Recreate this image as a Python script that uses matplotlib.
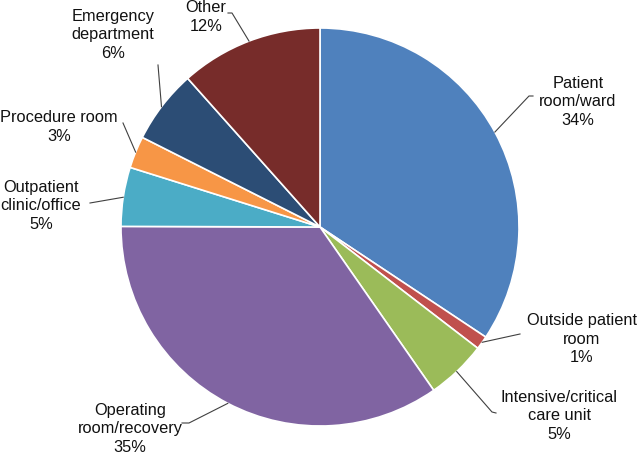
import numpy as np
import matplotlib
matplotlib.use("Agg")
import matplotlib.pyplot as plt

categories = ["Patient\nroom/ward", "Outside patient\nroom", "Intensive/critical\ncare unit",
              "Operating\nroom/recovery", "Outpatient\nclinic/office", "Procedure room",
              "Emergency\ndepartment", "Other"]
values = [34.4, 1.1, 4.9, 34.8, 4.8, 2.6, 6.0, 11.6]
pct_labels = ["34%", "1%", "5%", "35%", "5%", "3%", "6%", "12%"]
colors = ["#4F81BD", "#C0504D", "#9BBB59", "#8064A2", "#4BACC6", "#F79646", "#2C4D75", "#772C2A"]

# layout: label text centers (pixels, y from top), leader polyline start points, leader end angles
label_pos = [(578, 102), (582, 339), (559, 416), (130, 429), (41, 206), (59, 127), (113, 35), (206, 17)]
leader_pts = [[(533, 96), (529, 96)], [(520, 334)], [(496, 413), (492, 412)], [(182, 423), (189, 423)],
              [(90, 203)], [(123, 123)], [(158, 65)], [(228, 13), (232, 13)]]
leader_angle = [28.5, -35.4, -46.6, 242.4, 171.4, 157.9, 142.8, 110.9]

plt.rcParams['font.family'] = ['Liberation Sans', 'DejaVu Sans']
W, H = 640, 455
fig = plt.figure(figsize=(6.4, 4.55), dpi=100)
ax = fig.add_axes([0, 0, 1, 1])

cx, cy, r = 320, H - 227, 199
wedges, _ = ax.pie(values, colors=colors, startangle=90, counterclock=False,
                   center=(cx, cy), radius=r, frame=True,
                   wedgeprops=dict(edgecolor='white', linewidth=1.2))
ax.set_xlim(0, W)
ax.set_ylim(0, H)
ax.set_aspect('equal')
ax.axis('off')

for cat, pct, (lx, ly), pts, ang in zip(categories, pct_labels, label_pos, leader_pts, leader_angle):
    ax.text(lx, H - ly, cat + "\n" + pct, ha='center', va='center', fontsize=11.8,
            linespacing=1.33, color='#111111')
    ex = cx + r * np.cos(np.radians(ang))
    ey = cy + r * np.sin(np.radians(ang))
    xs = [p[0] for p in pts] + [ex]
    ys = [H - p[1] for p in pts] + [ey]
    ax.plot(xs, ys, color='#404040', linewidth=0.8)

fig.savefig("out.png", dpi=100)
